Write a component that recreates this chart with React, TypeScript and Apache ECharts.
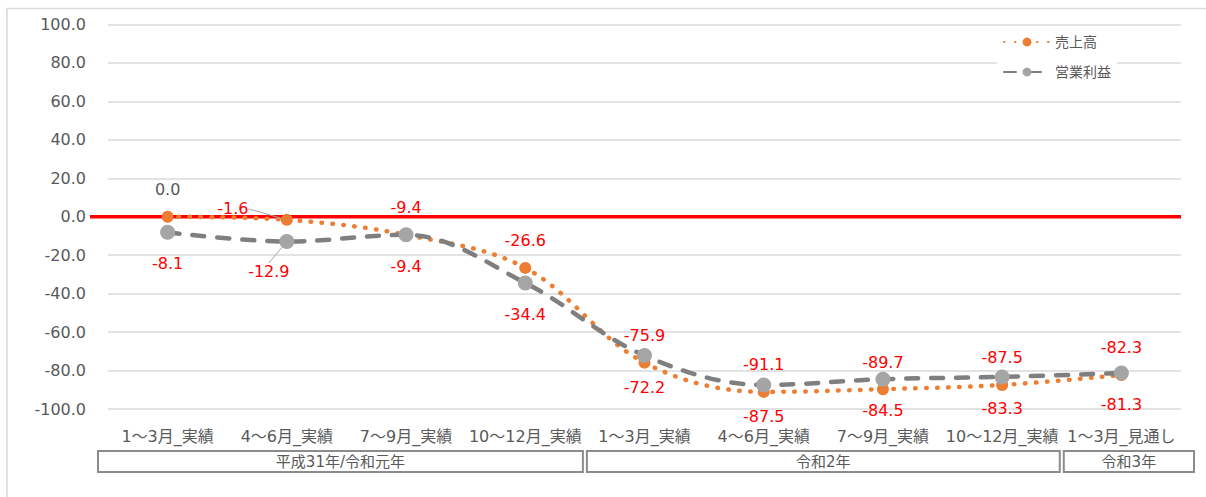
import React, { useEffect, useRef } from "react";
import * as echarts from "echarts";

const categories = [
  "1〜3月_実績",
  "4〜6月_実績",
  "7〜9月_実績",
  "10〜12月_実績",
  "1〜3月_実績",
  "4〜6月_実績",
  "7〜9月_実績",
  "10〜12月_実績",
  "1〜3月_見通し",
];
const groupNames = ["平成31年/令和元年", "令和2年", "令和3年"];
const groupCounts = [4, 4, 1];
const salesName = "売上高";
const profitName = "営業利益";
const sales = [0.0, -1.6, -9.4, -26.6, -75.9, -91.1, -89.7, -87.5, -82.3];
const profit = [-8.1, -12.9, -9.4, -34.4, -72.2, -87.5, -84.5, -83.3, -81.3];
const yMin = -100;
const yMax = 100;
const yStep = 20;

const FONT = "'DejaVu Sans', 'Noto Sans CJK JP', sans-serif";
const TEXT_GRAY = "#595959";
const RED = "#FF0000";

export default function App() {
  const ref = useRef<HTMLDivElement>(null);

  useEffect(() => {
    if (!ref.current) return;
    const chart = echarts.init(ref.current, null, { renderer: "svg" });

    const salesData = sales.map((v, i) => {
      const item: any = { value: v };
      if (i === 0) item.label = { color: TEXT_GRAY };
      if (i === 1) item.labelLine = { show: true };
      return item;
    });
    const profitData = profit.map((v, i) => {
      const item: any = { value: v };
      if (i === 1) item.labelLine = { show: true };
      return item;
    });

    chart.setOption({
      animation: false,
      backgroundColor: "#fff",
      textStyle: { fontFamily: FONT },
      grid: { left: 108, right: 25, top: 24.5, bottom: 88, containLabel: false },
      legend: {
        orient: "vertical",
        left: 997,
        top: 30,
        backgroundColor: "#fff",
        padding: [5, 6, 8, 6],
        itemWidth: 46,
        itemHeight: 11,
        itemGap: 16,
        textStyle: { color: TEXT_GRAY, fontSize: 14, fontFamily: FONT },
        data: [salesName, profitName],
      },
      xAxis: {
        type: "category",
        data: categories,
        boundaryGap: true,
        axisLine: { show: false },
        axisTick: { show: false },
        splitLine: { show: false },
        axisLabel: {
          color: TEXT_GRAY,
          fontSize: 16,
          fontFamily: FONT,
          margin: 19,
          interval: 0,
        },
      },
      yAxis: {
        type: "value",
        min: yMin,
        max: yMax,
        interval: yStep,
        axisLine: { show: false },
        axisTick: { show: false },
        axisLabel: {
          color: TEXT_GRAY,
          fontSize: 16,
          fontFamily: FONT,
          margin: 22,
          formatter: (v: number) => v.toFixed(1),
        },
        splitLine: { lineStyle: { color: "#d9d9d9", width: 1.5 } },
      },
      series: [
        {
          name: salesName,
          type: "line",
          data: salesData,
          smooth: 0.35,
          symbol: "circle",
          symbolSize: 12,
          z: 3,
          itemStyle: { color: "#ED7D31" },
          lineStyle: {
            color: "#ED7D31",
            width: 4.5,
            type: [0.5, 10.5],
            cap: "round",
          },
          label: {
            show: true,
            position: "top",
            distance: 13,
            color: RED,
            fontSize: 16,
            fontFamily: FONT,
            formatter: (p: any) => Number(p.value).toFixed(1),
          },
          labelLine: { show: false, lineStyle: { color: "#a6a6a6", width: 1 } },
          labelLayout: (p: any) => {
            if (p.dataIndex === 1) return { dx: -54, dy: 16 };
            return {};
          },
        },
        {
          name: profitName,
          type: "line",
          data: profitData,
          smooth: 0.35,
          symbol: "circle",
          symbolSize: 15,
          z: 4,
          itemStyle: { color: "#A5A5A5" },
          lineStyle: {
            color: "#7F7F7F",
            width: 4.5,
            type: [12, 13],
            cap: "round",
          },
          label: {
            show: true,
            position: "bottom",
            distance: 16,
            color: RED,
            fontSize: 16,
            fontFamily: FONT,
            formatter: (p: any) => Number(p.value).toFixed(1),
          },
          labelLine: { show: false, lineStyle: { color: "#a6a6a6", width: 1 } },
          labelLayout: (p: any) => {
            if (p.dataIndex === 1) return { dx: -18, dy: -2 };
            return {};
          },
        },
      ],
    });

    // Decorations computed from the axes' scales
    const cx = (i: number) =>
      chart.convertToPixel({ xAxisIndex: 0 }, i) as number;
    const band = cx(1) - cx(0);
    const plotLeft = cx(0) - band / 2;
    const plotRight = cx(categories.length - 1) + band / 2;
    const y0 = chart.convertToPixel({ yAxisIndex: 0 }, 0) as number;
    const yBottom = chart.convertToPixel({ yAxisIndex: 0 }, yMin) as number;

    const graphics: any[] = [
      {
        type: "rect",
        shape: { x: 7, y: 8.5, width: 1220, height: 520 },
        style: { fill: "none", stroke: "#d9d9d9", lineWidth: 1.5 },
        silent: true,
        z: 0,
      },
      {
        type: "line",
        shape: { x1: plotLeft - 18, y1: y0, x2: plotRight, y2: y0 },
        style: { stroke: RED, lineWidth: 3.5 },
        z: 2,
        silent: true,
      },
    ];

    let start = 0;
    const boxTop = yBottom + 42;
    const boxH = 21;
    groupCounts.forEach((cnt, g) => {
      const end = start + cnt;
      let x1 = plotLeft + start * band + 2;
      let x2 = plotLeft + end * band - 2;
      if (g === 0) x1 = plotLeft - 10;
      if (g === groupCounts.length - 1) x2 = plotRight + 13;
      graphics.push({
        type: "rect",
        shape: { x: x1, y: boxTop, width: x2 - x1, height: boxH },
        style: { fill: "#fff", stroke: "#8c8c8c", lineWidth: 2 },
        silent: true,
      });
      graphics.push({
        type: "text",
        x: (x1 + x2) / 2,
        y: boxTop + boxH / 2 + 0.5,
        style: {
          text: groupNames[g],
          fill: TEXT_GRAY,
          fontSize: 15,
          fontFamily: FONT,
          align: "center",
          verticalAlign: "middle",
        },
        silent: true,
      });
      start = end;
    });

    chart.setOption({ graphic: graphics });

    return () => chart.dispose();
  }, []);

  return (
    <div
      ref={ref}
      style={{ width: 1206, height: 497, position: "absolute", left: 0, top: 0 }}
    />
  );
}
